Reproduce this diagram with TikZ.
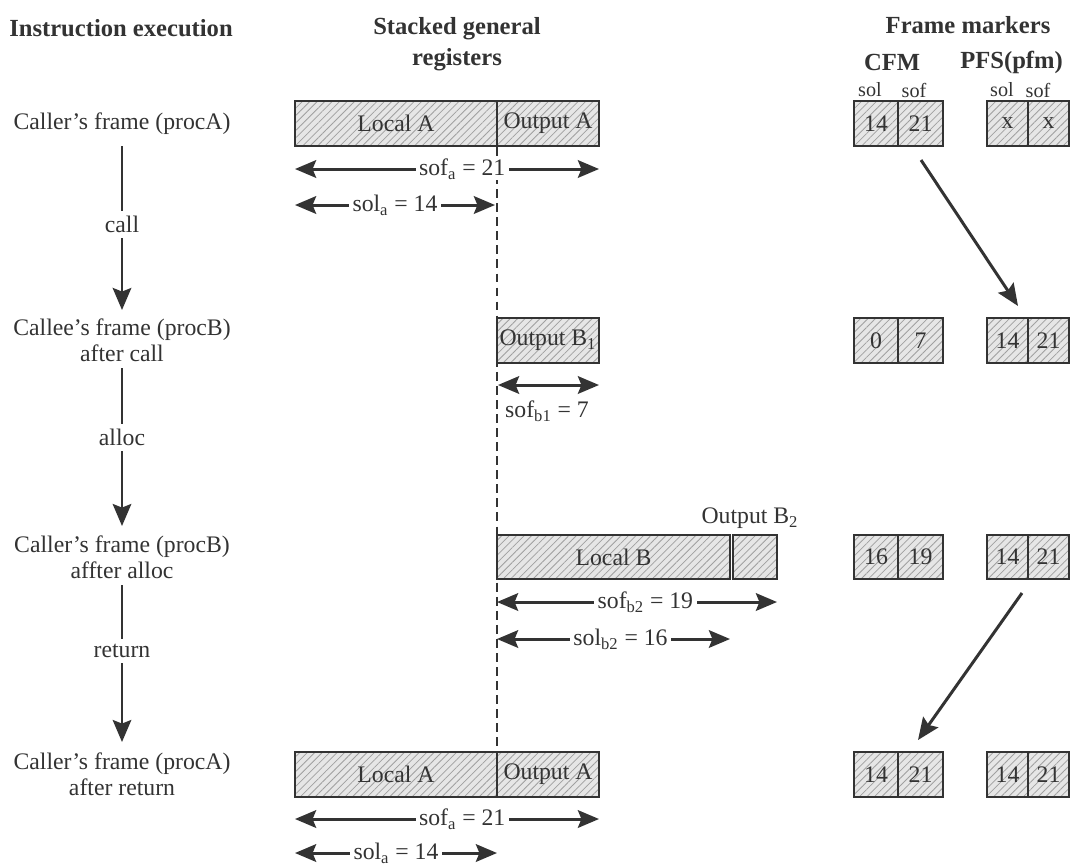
\documentclass[tikz,border=0pt]{standalone}
\usepackage{fontspec}
\setmainfont{Liberation Serif}
\usetikzlibrary{arrows.meta,patterns.meta}
\definecolor{ink}{HTML}{333333}
\definecolor{hatchfill}{HTML}{E6E6E6}
\definecolor{hatchline}{HTML}{A0A0A0}
\newcommand\regcell[6]{%
  \node[cell, minimum width={(#4-#2)*0.02cm}, minimum height={(#5-#3)*0.02cm}]
    (#1) at ({(#2+#4)/2},{(#3+#5)/2}) {#6};}
\begin{document}
\begin{tikzpicture}[x=0.02cm,y=-0.02cm,
  every node/.style={text=ink,font=\fontsize{13.5}{15}\selectfont},
  hdr/.style={font=\fontsize{14}{18}\selectfont\bfseries,align=center},
  small/.style={font=\fontsize{11.5}{13}\selectfont},
  cell/.style={draw=ink,line width=1.1pt,inner sep=0pt,
    preaction={fill=hatchfill},
    pattern={Lines[angle=45,distance=3pt,line width=0.45pt]},pattern color=hatchline},
  flow/.style={draw=ink,line width=1.7pt,-{Stealth[length=12.5pt,width=10.5pt,inset=2pt]}},
  dim/.style={draw=ink,line width=1.7pt,{Stealth[length=12pt,width=10pt,inset=2pt]}-{Stealth[length=12pt,width=10pt,inset=2pt]}},
  gap/.style={fill=white,inner xsep=2pt,inner ysep=0.5pt},
  step label/.style={fill=white,inner sep=3pt},
  twoline/.style={align=center}
]
\useasboundingbox[fill=white] (0,0) rectangle (1070,866);

% headers
\node[hdr] (h1) at (121,28) {Instruction execution};
\node[hdr] (h2) at (457,44) {Stacked general\\registers};
\node[hdr] (h3) at (968,25) {Frame markers};
\node[hdr] (cfm) at (892,62) {CFM};
\node[hdr,anchor=east] (pfs) at (1069,62) {PFS(pfm)};
\node[small] (s1) at (870,90) {sol};
\node[small] (s2) at (914,90) {sof};
\node[small] (s3) at (1002,90) {sol};
\node[small] (s4) at (1038,90) {sof};

% left column
\node (l1) at (122,124) {Caller's frame (procA)};
\node[twoline] (l2) at (122,340) {Callee's frame (procB)\\after call};
\node[twoline] (l3) at (122,557) {Caller's frame (procB)\\affter alloc};
\node[twoline] (l4) at (122,774) {Caller's frame (procA)\\after return};
\coordinate (a1s) at (122,146); \coordinate (a1e) at (122,310);
\coordinate (a2s) at (122,368); \coordinate (a2e) at (122,526);
\coordinate (a3s) at (122,585); \coordinate (a3e) at (122,742);
\draw[flow] (a1s) -- node[step label,pos=0.48] (c1) {call} (a1e);
\draw[flow] (a2s) -- node[step label,pos=0.44] (c2) {alloc} (a2e);
\draw[flow] (a3s) -- node[step label,pos=0.42] (c3) {return} (a3e);

% dashed boundary
\coordinate (dtop) at (497,147);
\coordinate (dbot) at (497,752);
\draw[draw=ink,line width=0.9pt,dash pattern=on 5pt off 3pt] (dtop) -- (dbot);

% row 1 registers
\regcell{la1}{295}{101}{497}{146}{Local A}
\regcell{oa1}{497}{101}{599}{146}{Output A}
\coordinate (r1a) at (295,169); \coordinate (r1b) at (599,169);
\coordinate (r1c) at (295,205); \coordinate (r1d) at (495,205);
\draw[dim] (r1a) -- node[gap,pos=0.55] (t1) {sof\textsubscript{a} = 21} (r1b);
\draw[dim] (r1c) -- node[gap,pos=0.5] (t2) {sol\textsubscript{a} = 14} (r1d);

% row 2 registers
\regcell{ob1}{497}{318}{599}{363}{Output B\textsubscript{1}}
\coordinate (r2a) at (498,385); \coordinate (r2b) at (599,385);
\draw[dim] (r2a) -- (r2b);
\node (t3) at (547,411) {sof\textsubscript{b1} = 7};

% row 3 registers
\regcell{lb}{497}{535}{730}{579}{Local B}
\regcell{ob2}{733}{535}{777}{579}{}
\node (t4) at (750,518) {Output B\textsubscript{2}};
\coordinate (r3a) at (497,602); \coordinate (r3b) at (777,602);
\coordinate (r3c) at (497,639); \coordinate (r3d) at (730,639);
\draw[dim] (r3a) -- node[gap,pos=0.53] (t5) {sof\textsubscript{b2} = 19} (r3b);
\draw[dim] (r3c) -- node[gap,pos=0.53] (t6) {sol\textsubscript{b2} = 16} (r3d);

% row 4 registers
\regcell{la4}{295}{752}{497}{797}{Local A}
\regcell{oa4}{497}{752}{599}{797}{Output A}
\coordinate (r4a) at (295,819); \coordinate (r4b) at (599,819);
\coordinate (r4c) at (295,853); \coordinate (r4d) at (497,853);
\draw[dim] (r4a) -- node[gap,pos=0.55] (t7) {sof\textsubscript{a} = 21} (r4b);
\draw[dim] (r4c) -- node[gap,pos=0.5] (t8) {sol\textsubscript{a} = 14} (r4d);

% frame markers
\regcell{c1l}{854}{101}{898}{146}{14}
\regcell{c1r}{898}{101}{943}{146}{21}
\regcell{p1l}{987}{101}{1028}{146}{x}
\regcell{p1r}{1028}{101}{1069}{146}{x}
\regcell{c2l}{854}{318}{898}{363}{0}
\regcell{c2r}{898}{318}{943}{363}{7}
\regcell{p2l}{987}{318}{1028}{363}{14}
\regcell{p2r}{1028}{318}{1069}{363}{21}
\regcell{c3l}{854}{535}{898}{579}{16}
\regcell{c3r}{898}{535}{943}{579}{19}
\regcell{p3l}{987}{535}{1028}{579}{14}
\regcell{p3r}{1028}{535}{1069}{579}{21}
\regcell{c4l}{854}{752}{898}{797}{14}
\regcell{c4r}{898}{752}{943}{797}{21}
\regcell{p4l}{987}{752}{1028}{797}{14}
\regcell{p4r}{1028}{752}{1069}{797}{21}

\coordinate (d1s) at (921,160); \coordinate (d1e) at (1018,306);
\coordinate (d2s) at (1022,593); \coordinate (d2e) at (918,740);
\draw[flow] (d1s) -- (d1e);
\draw[flow] (d2s) -- (d2e);
\end{tikzpicture}
\end{document}
